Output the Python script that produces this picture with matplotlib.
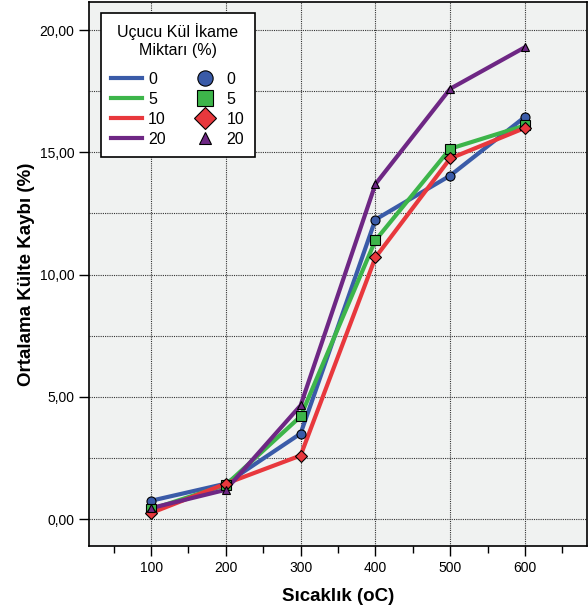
import numpy as np
import matplotlib.pyplot as plt
from matplotlib.lines import Line2D
from matplotlib.ticker import FuncFormatter, MultipleLocator

plt.rcParams['font.family'] = ['Liberation Sans', 'DejaVu Sans']

# data
temps = [100, 200, 300, 400, 500, 600]
loss_0 = [0.75, 1.45, 3.5, 12.25, 14.05, 16.45]
loss_5 = [0.4, 1.4, 4.2, 11.4, 15.15, 16.1]
loss_10 = [0.25, 1.45, 2.6, 10.7, 14.75, 16.0]
loss_20 = [0.45, 1.2, 4.65, 13.7, 17.6, 19.3]
labels = ['0', '5', '10', '20']

colors = ['#3A5BA8', '#3DB54A', '#E8383D', '#6E2784']
markers = ['o', 's', 'D', '^']
msizes = [6.5, 6.5, 6.3, 5.5]
leg_msizes = [11, 11, 11, 9]
series = [loss_0, loss_5, loss_10, loss_20]

fig = plt.figure(figsize=(5.88, 6.12), dpi=100)
ax = fig.add_axes([89/588, 1 - 546/612, (587 - 89)/588, (546 - 2)/612])
ax.set_facecolor('#F0F2F1')

for vals, c in zip(series, colors):
    ax.plot(temps, vals, color=c, linewidth=3, zorder=3)
for vals, c, m, s in zip(series, colors, markers, msizes):
    ax.plot(temps, vals, linestyle='none', marker=m, markersize=s,
            markerfacecolor=c, markeredgecolor='black', markeredgewidth=0.8, zorder=4)

ax.set_xlim(17, 683)
ax.set_ylim(-1.1, 21.15)
ax.set_xticks(temps)
ax.xaxis.set_minor_locator(MultipleLocator(50))
ax.yaxis.set_major_locator(MultipleLocator(5))
ax.yaxis.set_minor_locator(MultipleLocator(2.5))
ax.yaxis.set_major_formatter(FuncFormatter(lambda v, p: f'{v:.2f}'.replace('.', ',')))

ax.grid(True, which='major', axis='x', color='#333333', linestyle=(0, (1, 1)), linewidth=0.8)
ax.grid(True, which='both', axis='y', color='#333333', linestyle=(0, (1, 1)), linewidth=0.8)
ax.set_axisbelow(True)

ax.tick_params(axis='both', which='major', length=7, width=1, labelsize=10, color='black')
ax.tick_params(axis='x', which='minor', length=5, width=1)
ax.tick_params(axis='y', which='minor', length=0)
for sp in ax.spines.values():
    sp.set_linewidth(1.2)

ax.set_xlabel('Sıcaklık (oC)', fontsize=13.5, fontweight='bold', labelpad=10)
ax.set_ylabel('Ortalama Külte Kaybı (%)', fontsize=13.5, fontweight='bold', labelpad=3)

handles = [Line2D([], [], color=c, linewidth=3) for c in colors]
handles += [Line2D([], [], linestyle='none', marker=m, markersize=s, markerfacecolor=c,
                   markeredgecolor='black', markeredgewidth=0.8)
            for c, m, s in zip(colors, markers, leg_msizes)]
leg = ax.legend(handles, labels + labels, ncol=2, title='Uçucu Kül İkame\nMiktarı (%)',
                loc='upper left', bbox_to_anchor=(101/588, 1 - 13/612),
                bbox_transform=fig.transFigure, borderaxespad=0, fontsize=11.5,
                title_fontsize=11.5, frameon=True, fancybox=False, edgecolor='black',
                framealpha=1, handlelength=1.9, handletextpad=0.4, columnspacing=1.5,
                labelspacing=0.32, borderpad=0.65)
leg.get_title().set_multialignment('center')
leg.get_frame().set_linewidth(1.2)
leg._legend_box.sep = 10

fig.savefig('out.png', dpi=100)
